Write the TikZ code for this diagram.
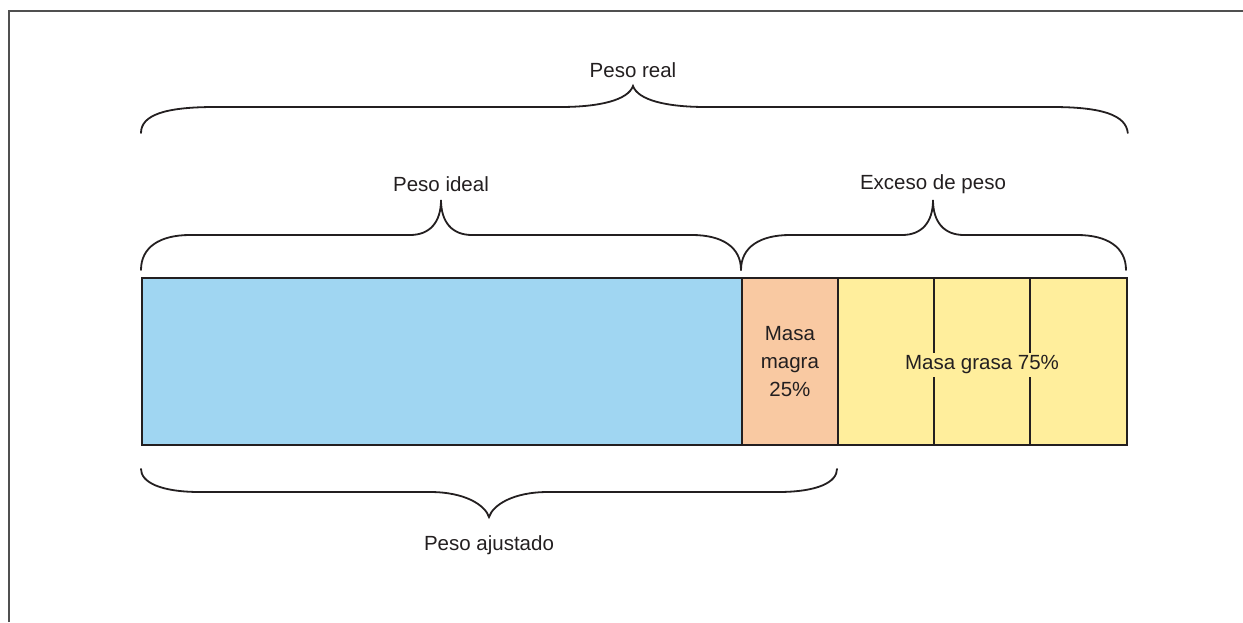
\documentclass[tikz,border=0pt]{standalone}
\usepackage{fontspec}
\setmainfont{Liberation Sans}
\definecolor{ink}{RGB}{35,31,32}
\definecolor{frame}{RGB}{80,80,80}
\definecolor{bblue}{RGB}{160,214,242}
\definecolor{borange}{RGB}{249,201,162}
\definecolor{byellow}{RGB}{255,238,156}
\begin{document}
\begin{tikzpicture}[x=1pt,y=-1pt,
  lbl/.style={text=ink,font=\fontsize{20.5}{28}\selectfont,inner sep=0pt},
  brace/.style={draw=ink,line width=1.8pt,line cap=round},
  seg/.style={draw=ink,line width=1.8pt},
  framel/.style={draw=frame,line width=1.8pt}]
\useasboundingbox (0,0) rectangle (1243,622);
% frame
\coordinate (fbl) at (9,622);
\coordinate (ftl) at (9,11);
\coordinate (ftr) at (1243,11);
\draw[framel] (fbl) -- (ftl) -- (ftr);
% bar
\node[seg,fill=bblue,minimum width=600pt,minimum height=167pt,anchor=north west,inner sep=0pt] (ideal) at (141,277) {};
\node[seg,fill=borange,minimum width=96pt,minimum height=167pt,anchor=north west,inner sep=0pt] (magra) at (741,277) {};
\node[seg,fill=byellow,minimum width=96pt,minimum height=167pt,anchor=north west,inner sep=0pt] (g1) at (837,277) {};
\node[seg,fill=byellow,minimum width=96pt,minimum height=167pt,anchor=north west,inner sep=0pt] (g2) at (933,277) {};
\node[seg,fill=byellow,minimum width=97pt,minimum height=167pt,anchor=north west,inner sep=0pt] (g3) at (1029,277) {};
\node[lbl,align=center] (tmagra) at (magra.center) {Masa\\magra\\25\%};
\node[lbl,fill=byellow,inner xsep=1pt,inner ysep=3pt] (tgrasa) at (982,365) {Masa grasa 75\%};
% brace: Peso real
\draw[brace] (ideal.north west |- 0,133) .. controls (141,115) and (165,107) .. (215,107)
  -- (560,107) .. controls (600,107) and (628,100) .. (633,86)
  .. controls (638,100) and (666,107) .. (706,107)
  -- (1052,107) .. controls (1102,107) and (1126,115) .. (g3.north east |- 0,133);
\node[lbl] (treal) at (633,70) {Peso real};
% brace: Peso ideal
\draw[brace] (141,270) .. controls (141,247) and (160,235) .. (190,235)
  -- (410,235) .. controls (430,235) and (441,222) .. (441,200)
  .. controls (441,222) and (452,235) .. (472,235)
  -- (692,235) .. controls (722,235) and (741,247) .. (741,270);
\node[lbl] (tideal) at (441,184) {Peso ideal};
% brace: Exceso de peso
\draw[brace] (741,270) .. controls (741,247) and (760,235) .. (790,235)
  -- (902,235) .. controls (922,235) and (933,222) .. (933,200)
  .. controls (933,222) and (944,235) .. (964,235)
  -- (1077,235) .. controls (1107,235) and (1126,247) .. (1126,270);
\node[lbl] (texceso) at (933,184) {Exceso de peso};
% brace: Peso ajustado
\draw[brace] (141,469) .. controls (141,482) and (160,492) .. (200,492)
  -- (430,492) .. controls (465,492) and (485,505) .. (489,517)
  .. controls (493,505) and (513,492) .. (548,492)
  -- (778,492) .. controls (818,492) and (837,482) .. (837,469);
\node[lbl] (tajust) at (489,545) {Peso ajustado};
\end{tikzpicture}
\end{document}
